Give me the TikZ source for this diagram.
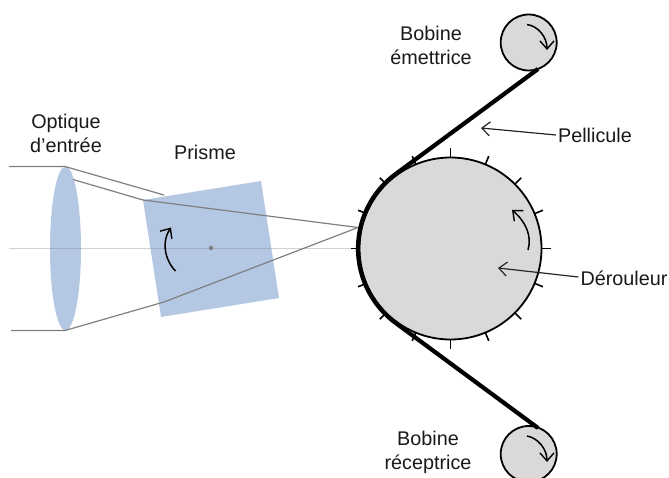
\documentclass[tikz,border=0pt]{standalone}
\usepackage{fontspec}
\setmainfont{Liberation Sans}
\usetikzlibrary{arrows.meta,shapes.geometric}
\definecolor{lensblue}{HTML}{B4C7E3}
\definecolor{drumgray}{HTML}{D9D9D9}
\definecolor{raygray}{HTML}{7F7F7F}
\tikzset{
  lbl/.style={align=center,inner sep=0pt,font=\fontsize{19.8}{24}\selectfont,text=black!90},
  ray/.style={draw=raygray,line width=1.2pt},
  axisline/.style={draw=raygray,line width=0.9pt,opacity=0.35},
  film/.style={draw=black,line width=4.2pt,line join=round},
  rot/.style={draw=black,line width=1.5pt,-{Straight Barb[length=8pt,width=14pt,line width=1.4pt]}},
  pointer/.style={draw=black!85,line width=1.2pt,-{Straight Barb[length=8pt,width=14pt,line width=1.2pt]}},
  drumtick/.style={draw=black,line width=1.6pt},
  wheel/.style={circle,draw=black,line width=1.8pt,fill=drumgray,inner sep=0pt,minimum size=#1}
}
\begin{document}
\begin{tikzpicture}[x=1pt,y=-1pt]
\useasboundingbox (0,0) rectangle (669,478);
\clip (0,0) rectangle (669,478);
% lens and prism
\node[ellipse,fill=lensblue,inner sep=0pt,minimum width=31pt,minimum height=164pt] (lens) at (65.5,248.5) {};
\fill[lensblue] (143,200) coordinate (pa) -- (261,181) -- (279,298) -- (161,317) -- cycle;
% rays
\coordinate (axisL) at (9,248);
\coordinate (axisR) at (360,248);
\draw[axisline] (axisL) -- (axisR);
\coordinate (lensT) at (65,166.5);
\coordinate (lensB) at (65,330.5);
\coordinate (focus) at (358,227.5);
\draw[ray] (9,166.5) -- (lensT) -- (164,195);
\draw[ray] (73,179.5) -- (pa) -- (focus);
\draw[ray] (11,330.5) -- (lensB) -- (164,302) -- (focus);
\node[circle,fill=raygray,inner sep=0pt,minimum size=4.5pt] (pivot) at (211,248) {};
\draw[rot] (175.5,271) .. controls (167,263) and (160,244) .. (171,227.5);
% drum ticks
\foreach \a in {0,22.5,...,337.5}{
  \draw[drumtick,shift={(450.5,248.5)}] (\a:91) -- (\a:100);
}
\node[wheel=182pt] (drum) at (450.5,248.5) {};
\node[wheel=56pt] (top) at (528.7,42.5) {};
\node[wheel=56pt] (bot) at (528.7,454) {};
% film
\coordinate (filmA) at (538,69);
\coordinate (filmB) at (538,428);
\draw[film] (filmA) -- plot[shift={(450.5,248.5)},domain=233.13:126.87,samples=40,smooth] (\x:92.5) -- (filmB);
% rotation arrows
\draw[rot] (528,250) .. controls (532,236) and (526,222) .. (512,210);
\draw[rot] (527,24.5) .. controls (538,26) and (547,37) .. (547,50);
\draw[rot] (527,436) .. controls (538,438) and (547,449) .. (547,462);
% labels
\node[lbl] (optique) at (66,133) {Optique\\d’entrée};
\node[lbl] (prisme) at (205,152) {Prisme};
\node[lbl] (bobe) at (431,45) {Bobine\\émettrice};
\node[lbl] (bobr) at (428,452) {Bobine\\réceptrice};
\node[lbl] (pell) at (595,135) {Pellicule};
\node[lbl] (der) at (624,278) {Dérouleur};
% pointers
\coordinate (pellT) at (481,128);
\coordinate (derT) at (498,268);
\draw[pointer] (pell.west) ++(-2,0) -- (pellT);
\draw[pointer] (der.west) ++(-2,-1) -- (derT);
\end{tikzpicture}
\end{document}
